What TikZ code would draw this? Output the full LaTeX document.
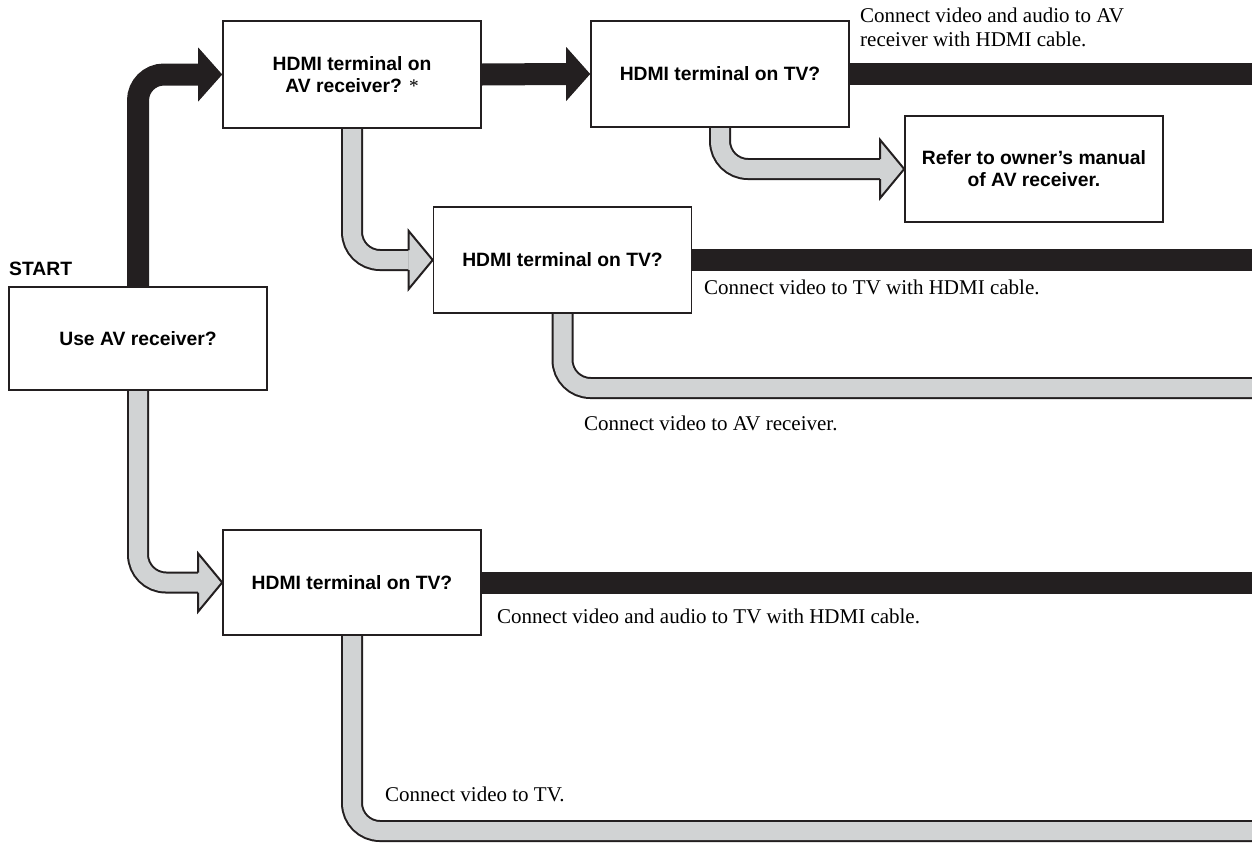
\documentclass[tikz,border=0pt]{standalone}
\usepackage{fontspec}
\setmainfont{Liberation Serif}
\setsansfont{Liberation Sans}
\usetikzlibrary{calc}
\definecolor{ink}{HTML}{231F20}
\definecolor{bandgray}{HTML}{D1D3D4}
\pgfdeclarelayer{bg}
\pgfsetlayers{bg,main}
\newcommand\boxfont{\sffamily\bfseries\fontsize{19.3}{22}\selectfont}
\newcommand\lblfont{\rmfamily\fontsize{21}{24}\selectfont}
\tikzset{
  box/.style={draw=ink, line width=1.6pt, fill=white, minimum width=258pt, minimum height=106pt, inner sep=0pt, align=center, font=\boxfont},
  blackband/.style={draw=ink, line width=22pt, rounded corners=26pt},
  grayband/.style={draw=ink, line width=2pt, double=bandgray, double distance=18pt, rounded corners=28pt},
  lbl/.style={font=\lblfont, anchor=base west, inner sep=0pt, align=left},
  headblack/.style={fill=ink, draw=none},
  headgray/.style={fill=bandgray, draw=ink, line width=2pt, line join=miter}
}
\newcommand\blackhead[1]{\fill[headblack] ($(#1)+(-24,-27)$) -- (#1) -- ($(#1)+(-24,27)$) -- cycle;}
\newcommand\grayhead[1]{\filldraw[headgray] ($(#1)+(-24,-10)$) -- ($(#1)+(-24,-29)$) -- (#1) -- ($(#1)+(-24,29)$) -- ($(#1)+(-24,10)$);}
\begin{document}
\begin{tikzpicture}[x=1pt,y=-1pt]
\useasboundingbox (0,0) rectangle (1252,844);
\coordinate (R) at (1252,0);
\coordinate (e2) at (1252,388);
\coordinate (e3) at (1252,831);

\node[box, minimum height=103pt] (use) at (138,338.5) {Use AV receiver?};
\node[box, minimum height=107pt] (avr) at (352,74.5) {HDMI terminal on\\AV receiver? {\mdseries\rmfamily *}};
\node[box] (tv1) at (720,74) {HDMI terminal on TV?};
\node[box] (refer) at (1034,169) {Refer to owner’s manual\\of AV receiver.};
\node[box] (tv2) at (562.5,260) {HDMI terminal on TV?};
\node[box, minimum height=105pt] (tv3) at (352,582.5) {HDMI terminal on TV?};

\node[font=\sffamily\bfseries\fontsize{19.3}{22}\selectfont, anchor=base west, inner sep=0pt] (start) at (9,275) {START};

\node[lbl] (l1) at (860,46) {Connect video and audio to AV\\receiver with HDMI cable.};
\node[lbl] (l2) at (704,294) {Connect video to TV with HDMI cable.};
\node[lbl] (l3) at (584,430) {Connect video to AV receiver.};
\node[lbl] (l4) at (497,623) {Connect video and audio to TV with HDMI cable.};
\node[lbl] (l5) at (385,801) {Connect video to TV.};

\begin{pgfonlayer}{bg}
\draw[blackband] (use.north) |- ($(avr.west)+(-24,0)$);
\blackhead{avr.west}
\draw[blackband] (avr.east) -- ($(tv1.west)+(-24,0)$);
\blackhead{tv1.west}
\draw[blackband] (tv1.east) -- (tv1.east -| R);
\draw[grayband] (tv1.south) |- ($(refer.west)+(-24,0)$);
\grayhead{refer.west}
\draw[grayband] (avr.south) |- ($(tv2.west)+(-24,0)$);
\grayhead{tv2.west}
\draw[blackband] (tv2.east) -- (tv2.east -| R);
\draw[grayband] (tv2.south) |- (e2);
\draw[grayband] (use.south) |- ($(tv3.west)+(-24,0)$);
\grayhead{tv3.west}
\draw[blackband] (tv3.east) -- (tv3.east -| R);
\draw[grayband] (tv3.south) |- (e3);
\end{pgfonlayer}
\end{tikzpicture}
\end{document}
